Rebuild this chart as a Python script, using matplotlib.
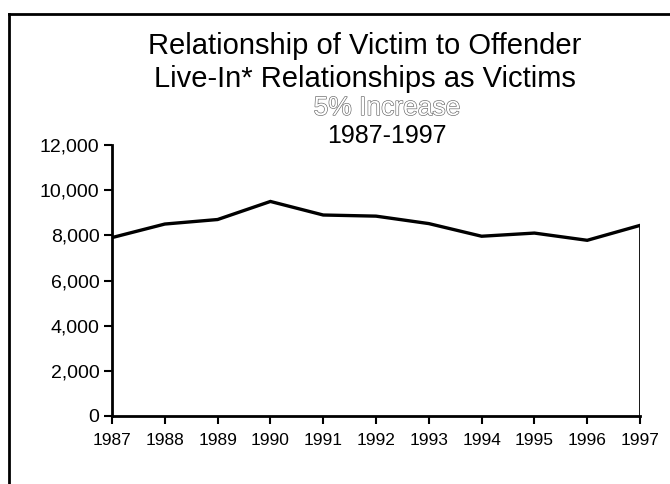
import matplotlib
matplotlib.use("Agg")
import matplotlib.pyplot as plt
import matplotlib.patheffects as pe
from matplotlib.lines import Line2D
from matplotlib.ticker import FuncFormatter

# data
years = [1987, 1988, 1989, 1990, 1991, 1992, 1993, 1994, 1995, 1996, 1997]
victims = [7900, 8500, 8700, 9500, 8900, 8850, 8520, 7960, 8100, 7780, 8440]
y_ticks = [0, 2000, 4000, 6000, 8000, 10000, 12000]

title_lines = ["Relationship of Victim to Offender", "Live-In* Relationships as Victims"]
sub_note = "5% Increase"
period = "1987-1997"

plt.rcParams['font.family'] = ['Liberation Sans', 'DejaVu Sans']

fig = plt.figure(figsize=(6.7, 4.84), dpi=100)
ax = fig.add_axes([112 / 670, 1 - 416 / 484, (640 - 112) / 670, (416 - 145) / 484])

ax.plot(years, victims, color='black', linewidth=2.4, solid_joinstyle='miter')
# vertical drop at the last year, as in the original
ax.vlines(years[-1], 0, victims[-1], color='black', linewidth=2)

ax.set_xlim(years[0], years[-1])
ax.set_ylim(0, 12000)
ax.set_xticks(years)
ax.set_yticks(y_ticks)
ax.yaxis.set_major_formatter(FuncFormatter(lambda v, p: f"{int(v):,}"))

for side in ['top', 'right']:
    ax.spines[side].set_visible(False)
for side in ['left', 'bottom']:
    ax.spines[side].set_linewidth(2)

ax.tick_params(axis='y', direction='out', length=6, width=1.5, labelsize=14, pad=3)
ax.tick_params(axis='x', direction='out', length=6, width=1.5, labelsize=12.5, pad=6)

# outer frame (left and top edges only visible in the picture)
fig.add_artist(Line2D([9 / 670, 9 / 670], [0, 1 - 14 / 484], transform=fig.transFigure,
                      color='black', linewidth=2))
fig.add_artist(Line2D([9 / 670, 1], [1 - 14 / 484, 1 - 14 / 484], transform=fig.transFigure,
                      color='black', linewidth=2))

cx = 365 / 670
fig.text(cx, 1 - 46 / 484, title_lines[0], ha='center', va='center', fontsize=21)
fig.text(cx, 1 - 79 / 484, title_lines[1], ha='center', va='center', fontsize=21)
fig.text(387 / 670, 1 - 108 / 484, sub_note, ha='center', va='center', fontsize=19,
         color='white',
         path_effects=[pe.withStroke(linewidth=0.9, foreground='#666666')])
fig.text(387 / 670, 1 - 136 / 484, period, ha='center', va='center', fontsize=18)

fig.savefig("out.png", dpi=100)
